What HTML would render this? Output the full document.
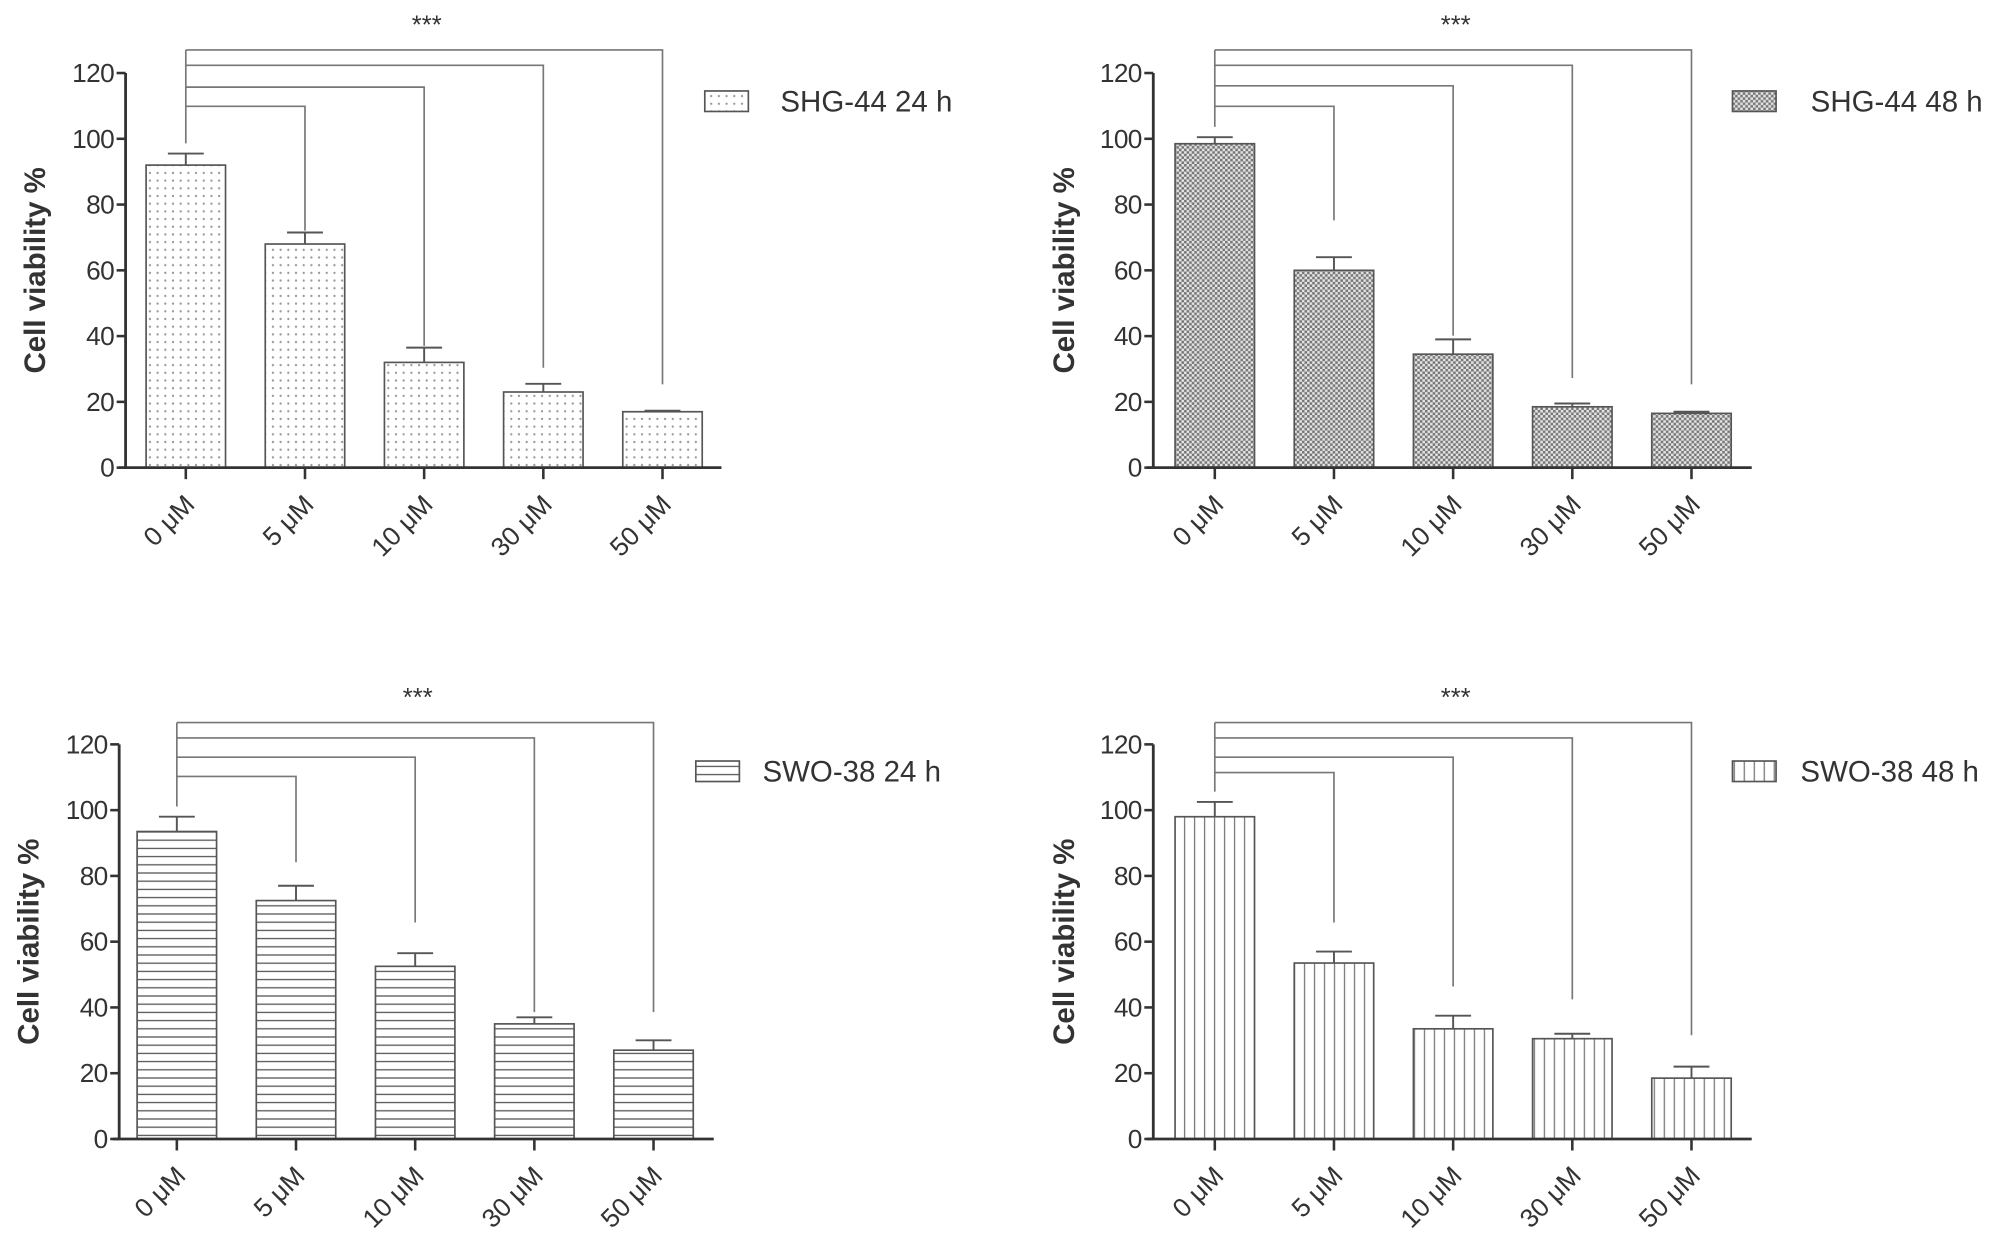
<!DOCTYPE html>
<html><head><meta charset="utf-8"><style>
html,body{margin:0;padding:0;background:#fff;}
svg{display:block;}
text{font-family:"Liberation Sans",sans-serif;fill:#333;}
</style></head><body>
<svg id="fig" width="2008" height="1253" viewBox="0 0 1567 978" preserveAspectRatio="none" xmlns="http://www.w3.org/2000/svg">
<defs>
<pattern id="p-dots" patternUnits="userSpaceOnUse" width="6" height="6"><circle cx="3" cy="3" r="0.9" fill="#999"/></pattern>
<pattern id="p-cross" patternUnits="userSpaceOnUse" width="4" height="4"><rect width="4" height="4" fill="#e4e4e4"/><rect x="0" y="0" width="2" height="2" fill="#777"/><rect x="2" y="2" width="2" height="2" fill="#777"/></pattern>
<pattern id="p-hlines" patternUnits="userSpaceOnUse" width="6" height="6.4"><line x1="0" y1="3" x2="6" y2="3" stroke="#555" stroke-width="1"/></pattern>
<pattern id="p-vlines" patternUnits="userSpaceOnUse" width="7.8" height="6"><line x1="4" y1="0" x2="4" y2="6" stroke="#777" stroke-width="1"/></pattern>
</defs>
</svg>
<script>
const categories = ["0 μM","5 μM","10 μM","30 μM","50 μM"];
const yTicks = [0,20,40,60,80,100,120];
const shg24Values = [92, 68, 32, 23, 17];
const shg24Errors = [3.5, 3.5, 4.5, 2.5, 0.3];
const shg48Values = [98.5, 60, 34.5, 18.5, 16.5];
const shg48Errors = [2, 4, 4.5, 1, 0.5];
const swo24Values = [93.5, 72.5, 52.5, 35, 27];
const swo24Errors = [4.5, 4.5, 4, 2, 3];
const swo48Values = [98, 53.5, 33.5, 30.5, 18.5];
const swo48Errors = [4.5, 3.5, 4, 1.5, 3.5];
const legendNames = ["SHG-44 24 h","SHG-44 48 h","SWO-38 24 h","SWO-38 48 h"];

const NS = "http://www.w3.org/2000/svg";
const svg = document.getElementById('fig');
function mk(tag, attrs, parent){
  const e = document.createElementNS(NS, tag);
  for (const k in attrs) e.setAttribute(k, attrs[k]);
  (parent||svg).appendChild(e);
  return e;
}

const panels = [
  {name:'shg44-24h', ax:98, y0:365, x0:145, xEnd:563, vals:shg24Values, errs:shg24Errors, fill:'url(#p-dots)', leg:legendNames[0], lbx:550, lby:71, ltx:609, star:333, br:[83,68,51,39], drop:[180,270,287,300], title:27},
  {name:'shg44-48h', ax:900, y0:365, x0:948, xEnd:1367, vals:shg48Values, errs:shg48Errors, fill:'url(#p-cross)', leg:legendNames[1], lbx:1352, lby:71, ltx:1413, star:1136, br:[83,67,51,39], drop:[172,262,295,300], title:830},
  {name:'swo38-24h', ax:93, y0:889, x0:138, xEnd:557, vals:swo24Values, errs:swo24Errors, fill:'url(#p-hlines)', leg:legendNames[2], lbx:543, lby:594, ltx:595, star:326, br:[606,591,576,564], drop:[673,720,790,790], title:22},
  {name:'swo38-48h', ax:900, y0:889, x0:948, xEnd:1367, vals:swo48Values, errs:swo48Errors, fill:'url(#p-vlines)', leg:legendNames[3], lbx:1352, lby:594, ltx:1405, star:1136, br:[603,591,576,564], drop:[720,770,780,808], title:830}
];

panels.forEach(p=>{
  const g = mk('g', {});
  
  
  const yS = v => p.y0 - v * (308/120);
  const xS = i => p.x0 + i * 93;
  const bw = 62;
  p.vals.forEach((v,i)=>{
    const r = mk('rect', {x:xS(i)-bw/2, y:yS(v), width:bw, height:p.y0-yS(v), fill:p.fill, stroke:'#555', 'stroke-width':1.3}, g);
    
    
    const top = yS(v + p.errs[i]);
    const e = mk('path', {d:`M${xS(i)} ${yS(v)} V${top} M${xS(i)-14} ${top} H${xS(i)+14}`, stroke:'#555', 'stroke-width':1.5, fill:'none'}, g);
    
    
  });
  const ya = mk('path', {d:`M${p.ax} ${yS(120)} V${p.y0}`, stroke:'#333', 'stroke-width':2.2, fill:'none'}, g);
  
  
  yTicks.forEach(t=>{
    mk('line', {x1:p.ax-7, x2:p.ax, y1:yS(t), y2:yS(t), stroke:'#333', 'stroke-width':2}, g);
    const tl = mk('text', {x:p.ax-9, y:yS(t)+7, 'text-anchor':'end', 'font-size':20.5, 'letter-spacing':-0.5}, g);
    tl.textContent = t;
    
    
  });
  const xa = mk('path', {d:`M${p.ax-5} ${p.y0} H${p.xEnd}`, stroke:'#333', 'stroke-width':2.2, fill:'none'}, g);
  
  
  categories.forEach((c,i)=>{
    mk('line', {x1:xS(i), x2:xS(i), y1:p.y0, y2:p.y0+9, stroke:'#333', 'stroke-width':2}, g);
    const tx = xS(i)+8, ty = p.y0+30;
    const tl = mk('text', {x:tx, y:ty, 'text-anchor':'end', 'font-size':20.5, transform:`rotate(-45 ${tx} ${ty})`}, g);
    tl.textContent = c;
    
    
  });
  const cy = (yS(0)+yS(120))/2;
  const ty = mk('text', {x:p.title+8, y:cy, 'text-anchor':'middle', 'font-size':23, 'font-weight':'bold', fill:'#3a3a3a', transform:`rotate(-90 ${p.title+8} ${cy})`}, g);
  ty.textContent = 'Cell viability %';
  
  
  p.br.forEach((by,k)=>{
    const tx = xS(k+1);
    const b = mk('path', {d:`M${xS(0)} ${by} H${tx} V${p.drop[k]}`, stroke:'#777', 'stroke-width':1.3, fill:'none'}, g);
    
    
  });
  const topBr = Math.min(...p.br);
  const v0 = mk('path', {d:`M${xS(0)} ${topBr} V${yS(p.vals[0]+p.errs[0])-8}`, stroke:'#777', 'stroke-width':1.3, fill:'none'}, g);
  
  
  const st = mk('text', {x:p.star, y:topBr-13, 'text-anchor':'middle', 'font-size':20, fill:'#555'}, g);
  st.textContent = '***';
  
  
  const lr = mk('rect', {x:p.lbx, y:p.lby, width:34, height:16, fill:p.fill, stroke:'#555', 'stroke-width':1.3}, g);
  
  
  const lt = mk('text', {x:p.ltx, y:p.lby+16, 'font-size':23, fill:'#555'}, g);
  lt.textContent = p.leg;
  
  
});
</script>
</body></html>
